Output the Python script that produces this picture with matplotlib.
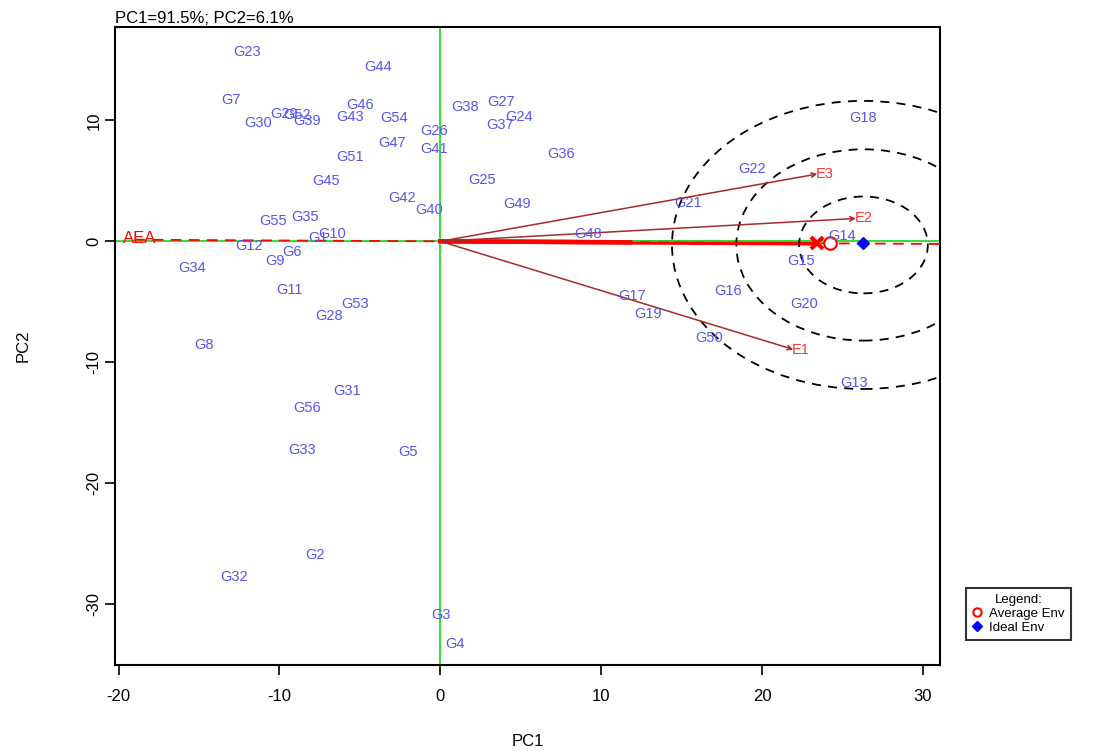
import numpy as np
import matplotlib.pyplot as plt
from matplotlib.patches import Ellipse
from matplotlib.lines import Line2D

plt.rcParams['font.family'] = ['Liberation Sans', 'DejaVu Sans']
plt.rcParams['axes.unicode_minus'] = False

# genotype scores (PC1, PC2)
gen_names = ['G1', 'G2', 'G3', 'G4', 'G5', 'G6', 'G7', 'G8', 'G9', 'G10',
             'G11', 'G12', 'G13', 'G14', 'G15', 'G16', 'G17', 'G18', 'G19', 'G20',
             'G21', 'G22', 'G23', 'G24', 'G25', 'G26', 'G27', 'G28', 'G29', 'G30',
             'G31', 'G32', 'G33', 'G34', 'G35', 'G36', 'G37', 'G38', 'G39', 'G40',
             'G41', 'G42', 'G43', 'G44', 'G45', 'G46', 'G47', 'G48', 'G49', 'G50',
             'G51', 'G52', 'G53', 'G54', 'G55', 'G56']
gen_pc1 = [-7.6, -7.8, 0.05, 0.9, -2.0, -9.2, -13.0, -14.7, -10.3, -6.7,
           -9.4, -11.9, 25.7, 25.0, 22.4, 17.9, 11.9, 26.3, 12.9, 22.6,
           15.4, 19.4, -12.0, 4.9, 2.6, -0.4, 3.8, -6.9, -9.7, -11.3,
           -5.8, -12.8, -8.6, -15.4, -8.4, 7.5, 3.7, 1.55, -8.3, -0.7,
           -0.4, -2.4, -5.6, -3.85, -7.1, -5.0, -3.0, 9.2, 4.8, 16.7,
           -5.6, -8.9, -5.3, -2.9, -10.4, -8.3]
gen_pc2 = [0.3, -25.9, -30.9, -33.3, -17.4, -0.9, 11.7, -8.6, -1.6, 0.6,
           -4.0, -0.4, -11.7, 0.4, -1.6, -4.1, -4.5, 10.2, -6.0, -5.2,
           3.2, 6.0, 15.6, 10.3, 5.1, 9.1, 11.5, -6.2, 10.5, 9.8,
           -12.4, -27.7, -17.2, -2.2, 2.0, 7.2, 9.6, 11.1, 9.9, 2.6,
           7.6, 3.6, 10.3, 14.4, 5.0, 11.3, 8.1, 0.6, 3.1, -8.0,
           7.0, 10.4, -5.2, 10.2, 1.7, -13.8]

# environment scores
env_names = ['E1', 'E2', 'E3']
env_pc1 = [22.1, 26.0, 23.6]
env_pc2 = [-9.0, 1.9, 5.6]

avg_env = (24.2, -0.17)
ideal_env = (26.3, -0.17)
circle_radii = [4.0, 7.9, 11.9]

fig = plt.figure(figsize=(10.98, 7.51), dpi=100)
ax = fig.add_axes([0.105, 0.1145, 0.751, 0.8495])
ax.set_xlim(-20.2, 31.05)
ax.set_ylim(-35.0, 17.7)

# axes through origin
ax.axhline(0, color='#22dd22', lw=1.3, zorder=2)
ax.axvline(0, color='#22dd22', lw=1.3, zorder=2)

# average environment axis
slope = avg_env[1] / avg_env[0]
xs = np.array([-19.0, 31.05])
ax.plot(xs, slope * xs, color='red', lw=1.3, ls=(0, (6, 4)), zorder=3)
ax.plot([0, avg_env[0] - 0.8], [0, avg_env[1]], color='red', lw=3.2, zorder=1)
ax.plot([0, 11.8], [0, slope * 11.8], color='red', lw=3.2, zorder=3)
ax.plot(avg_env[0] - 0.8, avg_env[1], marker='x', color='red', ms=9, mew=3, zorder=4)
ax.text(-19.7, 0.2, 'AEA', color='red', fontsize=12, ha='left', va='center', zorder=4)

# concentric circles around the ideal environment
for r in circle_radii:
    ax.add_patch(Ellipse((ideal_env[0], -0.3), 2 * r, 2 * r, fill=False,
                         ec='black', lw=1.3, ls=(0, (5, 4)), zorder=2))

# environment vectors
for n, x, y in zip(env_names, env_pc1, env_pc2):
    ax.annotate('', xy=(x, y), xytext=(0, 0),
                arrowprops=dict(arrowstyle='->', color='#a52a2a', lw=1.1,
                                mutation_scale=8), zorder=3)
    ax.text(x + 0.3, y, n, color='#ff3030', fontsize=10.5, ha='center', va='center', zorder=4)

# genotypes
for n, x, y in zip(gen_names, gen_pc1, gen_pc2):
    ax.text(x, y, n, color='#5555ee', fontsize=10.5, ha='center', va='center', zorder=5)

ax.plot(*avg_env, marker='o', mfc='white', mec='red', ms=9, mew=1.5, ls='none', zorder=4)
ax.plot(*ideal_env, marker='D', color='blue', ms=6, ls='none', zorder=6)

ax.set_xticks([-20, -10, 0, 10, 20, 30])
ax.set_yticks([-30, -20, -10, 0, 10])
ax.tick_params(labelsize=12, length=7, width=1.2, direction='out')
ax.tick_params(axis='x', pad=10)
ax.tick_params(axis='y', pad=3)
for lab in ax.get_yticklabels():
    lab.set_rotation(90)
    lab.set_va('center')
for s in ax.spines.values():
    s.set_linewidth(1.5)
ax.set_xlabel('PC1', fontsize=12, labelpad=22)
ax.set_ylabel('PC2', fontsize=12, labelpad=40)
ax.set_title('PC1=91.5%; PC2=6.1%', loc='left', fontsize=12, pad=3)

handles = [Line2D([], [], marker='o', mfc='white', mec='red', mew=1.5, ls='none', ms=6),
           Line2D([], [], marker='D', color='blue', ls='none', ms=5)]
leg = fig.legend(handles, ['Average Env', 'Ideal Env'], title='Legend:',
                 loc='lower left', bbox_to_anchor=(0.874, 0.139), fontsize=9.5,
                 title_fontsize=9.5, frameon=True, fancybox=False, edgecolor='black',
                 handlelength=0.8, handletextpad=0.5, borderpad=0.45, labelspacing=0.15)
leg.get_frame().set_linewidth(1.5)

fig.savefig('out.png', dpi=100)
